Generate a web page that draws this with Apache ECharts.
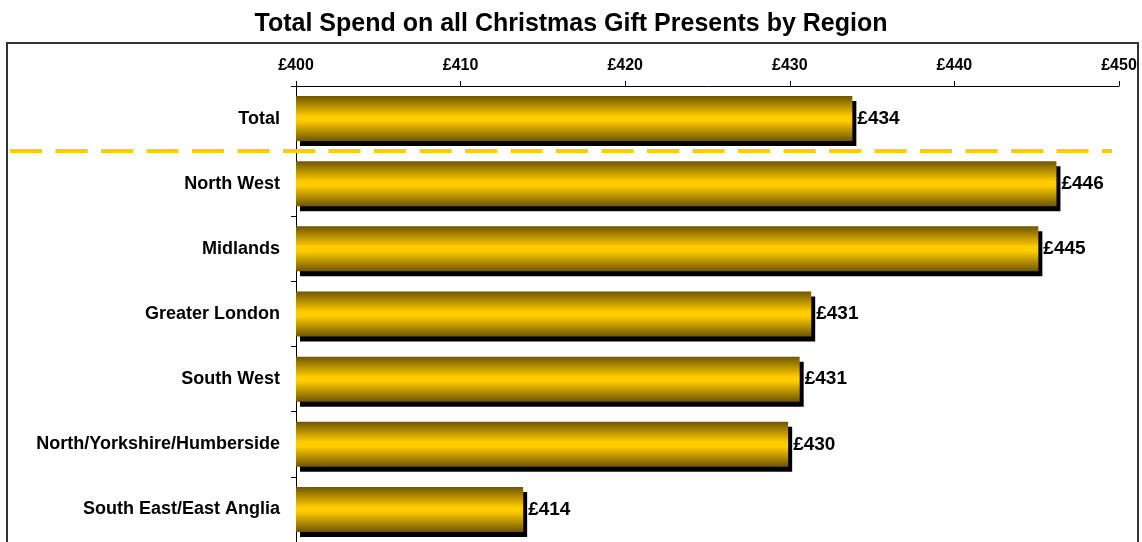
<!DOCTYPE html>
<html><head><meta charset="utf-8">
<script src="https://cdn.jsdelivr.net/npm/echarts@6/dist/echarts.min.js"></script>
<style>html,body{margin:0;padding:0;background:#fff}#c{width:1142px;height:542px}</style>
</head><body><div id="c"></div>
<script>
const categories = ["Total","North West","Midlands","Greater London","South West","North/Yorkshire/Humberside","South East/East Anglia"];
const spend = [433.8, 446.2, 445.1, 431.3, 430.6, 429.9, 413.8];
const tickValues = [400, 410, 420, 430, 440, 450];

const FONT = "'Liberation Sans', Arial, sans-serif";
const chart = echarts.init(document.getElementById('c'), null, {renderer:'canvas'});
const barGrad = new echarts.graphic.LinearGradient(0,0,0,1,[
  {offset:0,color:'#6e5600'},{offset:0.45,color:'#ffcc00'},{offset:0.55,color:'#ffcc00'},{offset:1,color:'#6e5600'}]);
chart.setOption({
  animation:false,
  title:{text:'Total Spend on all Christmas Gift Presents by Region',left:'center',top:7,
    textStyle:{fontFamily:FONT,fontWeight:'bold',fontSize:25,color:'#000'}},
  grid:{left:296,right:23,top:86,height:462,containLabel:false},
  xAxis:{type:'value',position:'top',min:tickValues[0],max:tickValues[tickValues.length-1],interval:10,
    axisLine:{show:true,lineStyle:{color:'#000',width:1}},
    axisTick:{show:true,length:5,lineStyle:{color:'#000'}},
    splitLine:{show:false},
    axisLabel:{formatter:v=>'£'+v,fontFamily:FONT,fontWeight:'bold',fontSize:16,color:'#000',margin:12}},
  yAxis:{type:'category',data:categories,inverse:true,
    axisLine:{show:true,lineStyle:{color:'#000',width:1}},
    axisTick:{show:true,length:5,lineStyle:{color:'#000'}},
    axisLabel:{fontFamily:FONT,fontWeight:'bold',fontSize:18,color:'#000',margin:16}},
  series:[{type:'bar',data:spend,barWidth:45,
    itemStyle:{color:barGrad,shadowColor:'#000',shadowOffsetX:4,shadowOffsetY:5,shadowBlur:0},
    label:{show:true,position:'right',distance:5,formatter:p=>'£'+Math.round(p.value),
      fontFamily:FONT,fontWeight:'bold',fontSize:19,color:'#000'}}]
});
function decorate(){
  const y0 = chart.convertToPixel({yAxisIndex:0}, categories[0]);
  const y1 = chart.convertToPixel({yAxisIndex:0}, categories[1]);
  const ySep = Math.round((y0+y1)/2);
  chart.setOption({graphic:[
    {type:'rect',shape:{x:7,y:43,width:1131,height:520},silent:true,z:-1,
      style:{fill:'none',stroke:'#333',lineWidth:2}},
    {type:'line',shape:{x1:10,y1:ySep,x2:1112,y2:ySep},silent:true,z:10,
      style:{stroke:'#ffcc00',lineWidth:4,lineDash:[32,13.5]}}
  ]});
}
decorate();
</script></body></html>
